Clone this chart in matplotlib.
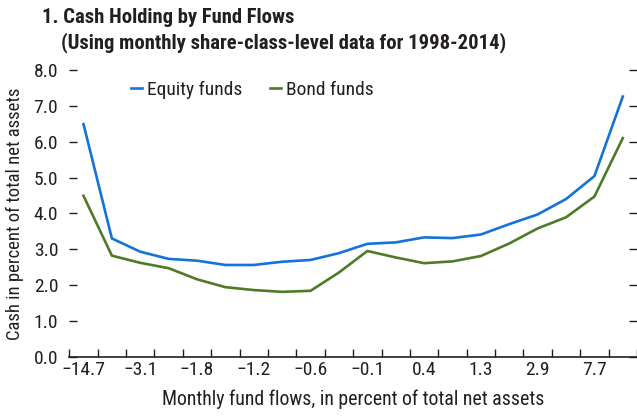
import matplotlib
matplotlib.use('Agg')
import matplotlib.pyplot as plt
import numpy as np

# data (20 fund-flow buckets)
flow_labels = ['\u221214.7', '', '\u22123.1', '', '\u22121.8', '', '\u22121.2', '', '\u22120.6', '',
               '\u22120.1', '', '0.4', '', '1.3', '', '2.9', '', '7.7', '']
equity = [6.49, 3.30, 2.93, 2.73, 2.68, 2.56, 2.56, 2.65, 2.70, 2.89,
          3.15, 3.19, 3.33, 3.31, 3.41, 3.70, 3.97, 4.40, 5.04, 7.26]
bond = [4.49, 2.82, 2.62, 2.47, 2.16, 1.94, 1.86, 1.81, 1.84, 2.35,
        2.95, 2.77, 2.61, 2.66, 2.81, 3.16, 3.58, 3.89, 4.47, 6.10]

txt = '#231F20'
plt.rcParams['font.family'] = ['Roboto Condensed', 'Archivo Narrow', 'DejaVu Sans']
plt.rcParams['text.color'] = txt
plt.rcParams['axes.labelcolor'] = txt
plt.rcParams['xtick.color'] = txt
plt.rcParams['ytick.color'] = txt

fig = plt.figure(figsize=(6.37, 4.16), dpi=100)
ax = fig.add_axes([0.1088, 0.1425, 0.8912, 0.6892])

x = np.arange(len(equity))
ax.plot(x, equity, color='#1473D8', lw=1.9, label='Equity funds')
ax.plot(x, bond, color='#4F7A28', lw=1.9, label='Bond funds')

ax.set_xlim(-0.5, len(x) - 0.5)
ax.set_ylim(0, 8)

# categorical ticks: labels at centres, tick marks at boundaries
ax.set_xticks(x)
ax.set_xticklabels(flow_labels)
ax.tick_params(axis='x', which='major', length=0, labelsize=14, pad=3)
ax.set_xticks(np.arange(-0.5, len(x)), minor=True)
ax.tick_params(axis='x', which='minor', direction='in', length=6, width=1, color=txt)

ax.set_yticks(np.arange(0, 8.1, 1))
ax.set_yticklabels(['%.1f' % v for v in np.arange(0, 8.1, 1)])
ax.tick_params(axis='y', direction='in', length=6, width=1, labelsize=14,
               right=True, pad=8, color=txt)

for s in ['left', 'right', 'top']:
    ax.spines[s].set_visible(False)
ax.spines['bottom'].set_color(txt)
ax.spines['bottom'].set_linewidth(1.2)

ax.set_xlabel('Monthly fund flows, in percent of total net assets', size=14.3, labelpad=8)
ax.set_ylabel('Cash in percent of total net assets', size=13.4)
ax.yaxis.set_label_coords(-0.080, 0.5)

ax.legend(loc='center left', bbox_to_anchor=(0.108, 0.93), ncol=2, frameon=False,
          fontsize=14, handlelength=0.6, handletextpad=0.25, columnspacing=1.4,
          borderpad=0, borderaxespad=0)

fig.text(0.066, 0.958, '1. Cash Holding by Fund Flows', size=14.9, weight='bold',
         va='center', ha='left')
fig.text(0.096, 0.897, '(Using monthly share-class-level data for 1998-2014)', size=14.9,
         weight='bold', va='center', ha='left')

fig.savefig('out.png', dpi=100)
